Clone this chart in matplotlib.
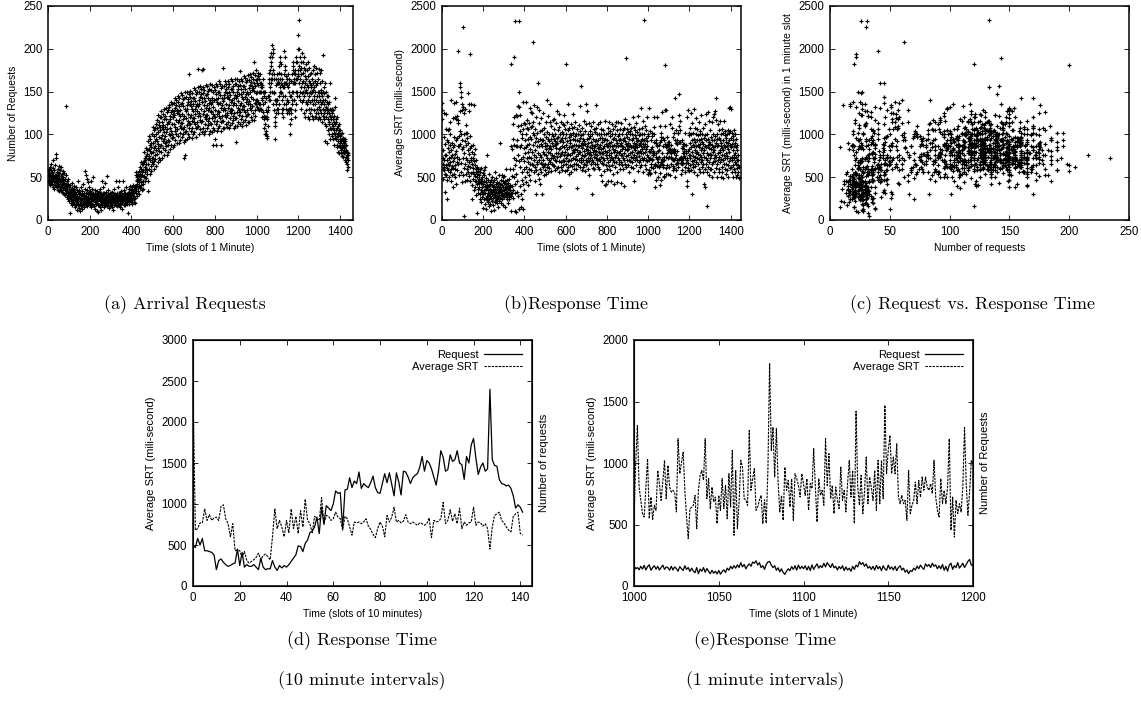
import matplotlib
matplotlib.use("Agg")
import matplotlib.pyplot as plt
import numpy as np

# requests per 1-minute slot (one row = 20 slots) (a)/(e)
requests_per_minute = [
    57,45,52,48,60,43,55,50,47,62,41,53,58,46,51,44,66,49,56,42,
    48,55,38,61,47,52,70,44,50,36,58,46,53,49,41,64,72,45,52,40,
    77,50,43,56,38,48,60,35,52,45,42,55,34,49,63,40,47,58,36,44,
    51,39,46,62,35,42,54,33,48,41,57,37,45,50,32,43,38,55,30,46,
    40,35,48,29,52,36,42,31,133,38,27,45,34,40,25,48,33,29,42,36,
    30,22,38,26,8,33,28,41,24,35,20,30,27,43,23,32,18,37,29,25,
    34,21,28,40,19,31,26,36,15,29,23,33,18,27,38,22,30,12,35,25,
    28,20,33,17,26,45,22,30,14,27,35,19,24,11,31,26,21,38,16,29,
    23,30,18,34,25,13,28,21,42,26,19,32,24,15,29,36,22,27,57,20,
    31,24,52,18,28,35,21,26,48,16,30,23,44,27,19,33,25,38,22,29,
    20,27,34,17,26,45,22,31,15,28,24,36,19,30,50,23,27,18,32,25,
    29,16,26,35,21,28,13,32,24,19,30,22,27,10,25,34,20,28,17,31,
    23,29,9,26,33,18,28,22,36,15,27,24,31,19,26,12,30,23,45,21,
    28,17,32,24,19,29,38,22,26,15,31,20,27,43,24,18,30,25,21,33,
    19,26,51,22,28,16,30,24,20,35,17,27,23,29,14,25,32,21,27,18,
    26,22,31,17,28,24,20,33,15,27,23,29,12,25,21,30,18,26,36,22,
    24,30,19,27,21,46,25,18,29,23,32,16,26,22,38,20,28,24,17,31,
    23,27,45,20,29,25,15,31,22,27,19,34,24,21,28,26,13,30,23,46,
    27,22,32,18,28,24,35,20,29,26,17,31,23,27,38,22,25,30,19,28,
    26,21,32,8,29,24,36,22,27,19,33,25,30,23,40,28,26,35,21,31,
    32,23,39,29,35,19,33,26,41,28,36,21,31,38,24,40,26,34,20,36,
    36,52,40,56,32,47,42,50,28,45,54,38,34,48,30,44,51,40,57,37,
    62,48,38,54,68,44,60,51,41,65,35,56,53,45,66,42,58,36,69,50,
    68,51,79,62,72,45,70,56,84,60,75,49,65,77,54,82,58,71,46,34,
    66,92,73,98,60,83,75,88,54,81,95,70,63,85,57,78,90,72,100,68,
    101,80,65,90,109,73,98,84,69,105,60,92,87,76,107,71,95,63,112,82,
    100,77,117,92,107,68,103,84,123,89,111,73,97,114,81,120,86,105,70,109,
    88,120,96,127,80,109,99,115,72,106,124,92,84,111,76,103,118,95,130,90,
    122,98,82,109,131,91,118,103,86,126,76,112,106,94,128,88,115,79,134,101,
    115,92,132,107,122,83,118,99,138,104,126,88,112,129,96,135,101,120,85,124,
    120,97,137,112,127,88,123,104,143,109,131,93,117,134,101,140,106,125,90,129,
    106,138,114,145,98,127,117,133,90,124,142,110,102,129,94,121,136,113,148,108,
    137,113,97,124,146,106,133,118,101,141,91,73,121,109,143,103,130,94,149,76,
    127,104,144,119,134,95,130,111,150,116,138,100,124,141,108,147,113,171,97,136,
    112,144,120,151,104,133,123,139,96,130,148,116,108,135,100,127,142,119,154,114,
    143,119,103,130,152,112,139,124,107,147,97,133,127,115,149,109,136,176,155,122,
    133,110,150,125,140,101,136,117,156,122,144,106,130,147,114,153,175,138,103,142,
    116,148,124,155,108,176,127,143,100,134,152,120,112,139,104,131,146,123,158,118,
    147,123,107,134,156,116,143,128,111,151,101,137,131,119,153,113,140,104,159,126,
    135,112,152,127,142,103,138,119,158,124,88,108,132,149,116,155,121,140,105,95,
    120,152,128,159,112,141,88,147,104,138,156,124,116,143,108,135,150,127,162,122,
    150,126,110,137,159,119,146,131,114,154,104,88,134,122,156,116,143,107,177,129,
    139,116,156,131,146,107,142,123,162,128,150,112,136,153,120,159,125,144,109,148,
    123,155,131,162,115,144,134,150,107,141,159,127,119,146,111,138,153,130,165,125,
    153,129,113,140,162,122,149,134,117,157,107,143,137,125,159,119,146,110,165,91,
    142,119,159,134,149,110,145,126,165,131,153,115,139,156,123,162,128,147,112,174,
    126,158,134,165,118,147,137,153,110,144,162,130,122,149,114,141,156,133,168,128,
    157,133,117,144,166,126,153,138,121,161,111,147,141,129,163,123,150,114,169,136,
    147,124,164,139,154,115,150,131,170,136,158,120,144,161,128,167,133,152,117,156,
    133,165,141,172,125,154,184,160,117,151,169,137,129,156,121,148,163,140,175,135,
    165,140,150,132,160,138,168,130,158,172,128,150,165,136,160,130,150,170,135,155,
    150,128,160,130,155,142,120,158,140,126,165,135,150,118,145,122,108,150,100,138,
    120,150,112,142,120,100,128,104,120,98,126,96,118,132,110,145,128,160,140,165,
    145,172,150,190,155,175,140,165,180,160,195,185,205,170,190,150,165,135,175,195,
    200,170,150,165,128,148,115,140,110,95,120,140,125,158,135,165,130,170,140,160,
    140,165,130,160,125,172,135,160,180,145,165,150,185,155,190,170,150,182,148,160,
    130,158,140,165,125,155,130,145,120,160,135,170,155,198,175,190,160,180,145,160,
    135,160,130,168,140,158,125,165,140,128,170,138,155,130,160,125,150,165,130,145,
    112,130,100,125,118,145,130,162,140,170,150,135,180,160,175,150,185,160,172,140,
    165,140,175,128,160,120,170,185,135,165,150,190,145,165,185,150,175,200,216,170,
    168,180,145,200,160,234,175,150,190,165,140,185,155,170,130,178,160,148,195,138,
    172,150,185,140,162,125,178,155,190,145,168,120,175,150,160,138,182,128,165,152,
    158,135,175,148,120,168,140,185,155,130,162,145,178,118,150,170,138,160,125,155,
    148,172,130,158,140,165,122,150,175,135,160,118,152,145,180,128,155,140,162,120,
    150,135,170,125,158,140,177,120,145,160,130,172,138,150,118,165,125,176,145,132,
    150,120,172,140,128,160,118,152,135,175,125,148,138,162,115,145,130,193,122,150,
    140,125,155,118,135,148,112,160,128,140,92,132,120,150,110,138,125,145,90,130,
    118,135,105,128,145,112,125,100,138,115,130,108,122,95,160,118,128,106,120,98,
    112,125,100,130,108,118,95,128,110,102,122,88,115,105,132,96,112,142,100,118,
    105,95,115,88,108,98,120,85,102,92,110,80,98,105,86,100,112,78,95,90,
    98,85,105,78,92,100,82,95,88,75,102,84,92,80,96,86,74,90,82,95,
    84,78,92,70,86,80,95,74,82,68,88,76,65,80,72,58,78,62,70,76,
]

# average SRT (ms) per 1-minute slot (b)/(e)
srt_per_minute = [
    1290,1370,1180,730,600,480,650,820,580,970,620,1250,700,540,330,890,760,640,1060,530,
    760,1240,610,930,470,700,250,840,660,1050,580,910,720,1060,500,790,640,880,1150,560,
    680,1010,450,820,590,740,1400,630,900,520,760,1190,380,690,850,610,970,1370,540,720,
    880,640,1200,500,770,600,1380,930,420,810,1180,680,960,740,1210,580,1170,860,1130,650,
    1970,520,980,710,860,1040,1600,1270,1550,890,1490,1440,560,1010,670,1280,830,1360,440,940,
    2260,720,1320,530,850,50,1000,610,1250,780,450,920,1300,660,1020,540,880,720,1110,600,
    960,700,1020,470,820,630,1480,560,900,1270,680,770,510,1360,840,1940,620,450,980,700,
    550,860,730,1350,410,650,800,240,560,720,480,880,610,1340,350,690,540,770,830,460,
    640,510,380,590,700,460,560,290,620,420,540,80,500,360,600,450,310,570,430,480,
    390,520,300,600,440,250,560,350,480,210,430,610,330,500,270,460,380,140,550,320,
    420,300,580,240,460,350,520,190,400,310,620,260,440,360,130,490,280,410,760,230,
    380,320,470,210,350,280,540,160,400,300,250,440,190,360,420,280,330,100,470,260,
    340,410,220,500,300,380,170,440,260,350,120,400,290,330,470,210,360,270,560,310,
    230,420,350,280,490,200,380,310,250,440,330,150,400,270,520,360,290,430,220,340,
    380,900,260,420,310,470,200,360,290,530,340,250,410,320,180,450,380,280,500,300,
    350,430,270,510,320,390,150,460,280,360,600,310,420,250,380,330,470,290,200,400,
    300,360,430,270,390,320,480,250,350,410,600,290,380,100,320,1820,280,860,510,310,
    830,400,1120,260,600,950,350,720,1900,880,500,1200,420,640,110,2330,310,860,90,700,
    1230,540,1220,860,330,940,450,760,1100,280,1330,2330,1490,690,130,1320,850,400,1040,620,
    1230,300,880,150,710,1110,470,960,250,1000,560,1380,740,420,1060,130,840,600,1130,350,
    690,940,500,1120,780,1380,440,850,620,1000,730,1170,560,880,1080,950,680,1060,410,800,
    890,600,1130,740,520,970,1310,650,830,470,1090,720,1260,580,950,800,1250,660,1100,1020,
    2080,640,880,1150,560,760,990,1340,700,450,910,620,1060,820,300,740,1200,580,960,680,
    870,1320,650,1020,540,1600,780,920,480,1130,700,860,1280,600,950,760,420,1040,670,890,
    740,1190,560,930,660,300,870,1050,620,800,1250,700,940,520,1080,770,640,1000,860,580,
    900,650,1140,760,540,970,830,1400,620,880,720,1030,560,950,790,660,1210,840,700,1000,
    610,920,780,1150,680,860,1360,720,950,570,830,1100,660,1010,760,900,1170,640,980,720,
    860,1060,630,950,750,1180,880,700,1000,580,920,780,1130,690,890,840,1270,610,960,740,
    900,620,1050,780,970,560,1240,830,690,1090,750,920,400,1010,840,680,1150,770,940,620,
    1030,790,580,960,870,1120,700,1000,640,910,1230,760,850,1110,690,960,800,570,1060,730,
    1820,880,650,1000,760,1140,580,920,830,690,1050,770,1350,620,970,850,700,1080,540,900,
    760,1010,640,930,850,1120,700,990,560,870,1080,780,630,950,820,1240,720,1020,600,880,
    790,1090,660,930,710,980,830,1140,590,880,750,1000,660,370,940,820,1060,700,860,770,
    1000,640,920,790,1110,700,860,1330,620,960,800,1040,730,1560,880,680,990,760,900,580,
    840,1070,700,950,620,880,1000,750,1160,660,920,810,570,1040,760,890,700,1120,830,640,
    1350,780,950,680,1270,860,730,1010,600,900,820,1130,690,960,770,530,1040,850,720,980,
    800,650,1100,760,910,300,840,1000,700,880,610,950,790,1150,680,870,1060,740,820,590,
    920,770,1030,660,860,1340,720,940,810,1080,650,890,760,1000,700,840,1120,620,930,800,
    710,1010,850,600,960,780,1140,690,880,520,1000,740,830,1060,670,910,780,450,960,720,
    840,650,1050,780,930,570,870,1000,700,410,950,810,1160,640,890,760,420,1010,730,860,
    600,940,790,1080,680,870,450,1020,760,900,630,1150,820,700,980,580,860,1040,740,450,
    910,780,1000,640,860,1120,720,950,540,830,1060,700,880,790,420,960,680,1100,820,740,
    1000,620,870,1140,760,930,680,1050,560,900,800,440,980,720,860,1150,650,940,780,1010,
    700,880,590,1060,810,950,680,1130,760,430,900,830,1000,640,870,760,1050,720,930,590,
    850,1070,700,960,780,400,920,830,1180,660,890,1890,750,1010,620,870,970,700,820,1060,
    760,900,640,1030,830,700,1120,870,560,950,780,1040,690,880,1000,740,850,620,1070,800,
    930,680,1010,790,870,1200,720,960,610,840,1090,760,900,450,990,820,700,1050,860,740,
    960,640,890,1130,780,920,700,1030,850,570,940,800,1210,680,880,990,750,1060,620,900,
    810,1000,700,920,1310,780,860,640,1070,830,950,720,1000,560,890,780,1160,700,940,850,
    2340,730,1010,640,890,800,1100,700,960,830,600,1050,760,920,1200,690,870,980,740,540,
    540,1000,1306,805,700,588,561,800,1035,547,723,542,656,615,940,832,696,850,1022,710,
    981,805,764,778,760,602,1198,913,1000,1089,778,560,385,629,640,656,737,466,778,900,
    940,859,1198,710,873,629,805,683,723,507,737,615,873,629,818,547,913,642,1103,412,
    940,466,683,1022,967,710,700,656,1265,778,870,954,615,642,700,737,507,700,510,940,
    1812,1103,1290,886,1280,850,602,737,534,967,778,859,642,873,534,913,873,818,723,913,
    832,737,873,615,832,791,1117,805,520,873,737,778,656,1198,818,1076,710,818,588,805,
    700,629,967,696,778,602,832,1022,723,940,507,1420,805,656,900,588,764,1049,669,886,
    805,696,940,615,1022,669,1022,710,1470,913,1103,1225,913,1049,913,1157,723,669,737,669,
    696,534,940,588,656,696,846,669,859,723,886,778,886,805,778,832,751,1022,723,615,
    561,873,669,778,669,805,1198,453,723,398,696,588,669,602,805,1290,832,575,764,1022,
    995,760,1080,640,900,720,1250,580,850,1000,690,940,800,300,1130,660,880,750,1020,620,
    860,1300,700,950,560,820,1080,740,910,630,1000,780,870,1190,680,940,520,800,1060,720,
    880,650,990,770,1150,600,850,930,710,1040,560,890,760,1000,680,820,1230,740,950,620,
    840,1000,700,910,560,780,1070,650,890,420,960,740,820,1120,600,870,380,990,720,850,
    1240,660,930,780,560,1010,700,160,880,620,1260,760,950,520,840,1160,680,910,770,600,
    890,1050,720,830,600,970,760,1140,650,880,500,930,790,1010,680,850,1200,720,940,560,
    820,1240,690,980,760,1270,870,1420,610,900,1170,740,1000,650,860,500,950,780,1120,700,
    880,600,960,740,1050,560,820,930,680,1160,790,500,870,1000,710,900,620,1060,760,840,
    560,940,700,1020,820,490,880,650,1160,760,990,600,850,720,1040,540,910,780,660,960,
    720,1000,580,870,750,1050,640,900,500,830,1020,690,1310,790,940,1320,610,880,1040,720,
    1300,850,620,960,740,1020,560,890,700,980,640,820,500,930,760,1050,600,870,720,680,
    900,560,780,1000,650,850,500,740,950,610,820,700,530,880,640,760,560,700,490,620,
]

# panel (d): 10-minute slots
request_10min = [
    490,470,580,500,580,430,430,420,410,380,
    200,310,330,290,260,240,250,270,280,450,
    250,410,230,260,240,240,260,230,200,340,
    230,200,210,210,310,230,190,250,220,250,
    230,260,300,340,380,490,480,420,520,560,
    650,670,720,840,640,960,750,980,950,920,
    1000,1160,1130,1140,700,1170,1180,1320,1200,1280,
    1250,1390,1190,1250,1220,1200,1260,1340,1200,1140,
    1130,1250,1370,1260,1380,1240,1100,1380,1270,1110,
    1400,1390,1330,1250,1320,1350,1370,1450,1580,1400,
    1530,1500,1430,1330,1230,1400,1650,1570,1400,1420,
    1600,1520,1540,1650,1500,1480,1300,1580,1500,1720,
    1800,1560,1360,1450,1500,1400,1430,2400,1540,1470,
    1460,1300,1250,1240,1220,1230,1190,1100,950,990,960,900,
]
srt_10min = [
    2450,680,700,770,770,940,800,870,800,830,
    840,800,970,990,820,760,600,760,430,440,
    430,350,420,310,280,300,320,350,400,320,
    370,390,360,320,600,940,700,800,720,600,
    800,650,940,700,850,640,920,720,1060,800,
    760,650,850,820,800,1080,760,860,850,800,
    820,900,840,820,680,850,820,720,620,780,
    770,780,760,780,820,730,690,630,590,700,
    780,730,600,860,780,840,960,780,800,770,
    790,870,780,760,780,760,740,770,760,740,
    760,830,590,800,780,790,820,1020,760,800,
    930,790,880,760,950,700,780,740,770,780,
    960,740,780,770,730,760,700,450,720,860,
    880,900,800,770,720,680,660,850,880,900,640,620,
]

zoom_start, zoom_end = 1000, 1200

captions_top = ["(a) Arrival Requests", "(b)Response Time", "(c) Request vs. Response Time"]
captions_bottom = [["(d) Response Time", "(10 minute intervals)"],
                   ["(e)Response Time", "(1 minute intervals)"]]

plt.rcParams['font.family'] = ['Liberation Sans', 'DejaVu Sans']
plt.rcParams['font.size'] = 7.5

req = np.array(requests_per_minute)
srt = np.array(srt_per_minute)
n = min(len(req), len(srt))
req, srt = req[:n], srt[:n]
minutes = np.arange(n)


def style(ax):
    ax.tick_params(direction='in', top=True, right=True, length=3.5, width=0.6,
                   labelsize=8.3, pad=4)
    for s in ax.spines.values():
        s.set_linewidth(1.1)


def scatter(ax, x, y):
    ax.plot(x, y, '+', color='black', ms=3.5, mew=0.85, linestyle='none')


fig = plt.figure(figsize=(11.41, 7.23), dpi=100)
W, H = 1141.0, 723.0


def make_ax(l, r, t, b):
    return fig.add_axes([l / W, 1 - b / H, (r - l) / W, (b - t) / H])


# (a)
ax = make_ax(48, 353, 6, 220)
scatter(ax, minutes, req)
ax.set_xlim(0, 1462)
ax.set_ylim(0, 250)
ax.set_xticks(range(0, 1401, 200))
ax.set_yticks(range(0, 251, 50))
ax.set_xlabel("Time (slots of 1 Minute)")
ax.set_ylabel("Number of Requests", labelpad=4)
style(ax)

# (b)
ax = make_ax(442, 741, 6, 220)
scatter(ax, minutes, srt)
ax.set_xlim(0, 1450)
ax.set_ylim(0, 2500)
ax.set_xticks(range(0, 1401, 200))
ax.set_yticks(range(0, 2501, 500))
ax.set_xlabel("Time (slots of 1 Minute)")
ax.set_ylabel("Average SRT (milli-second)", labelpad=4)
style(ax)

# (c)
ax = make_ax(830, 1129, 6, 220)
scatter(ax, req, srt)
ax.set_xlim(0, 250)
ax.set_ylim(0, 2500)
ax.set_xticks(range(0, 251, 50))
ax.set_yticks(range(0, 2501, 500))
ax.set_xlabel("Number of requests")
ax.set_ylabel("Average SRT (milli-second) in 1 minute slot", labelpad=4)
style(ax)


def line_panel(ax, x, r, s, right_text):
    ax.plot(x, r, color='black', lw=0.9, label="Request")
    ax.plot(x, s, color='black', lw=0.8, linestyle=(0, (2.2, 1.0)), label="Average SRT")
    leg = ax.legend(loc='upper right', frameon=False, markerfirst=False,
                    handlelength=3.4, handletextpad=0.5, labelspacing=0.15,
                    borderaxespad=0.8, borderpad=0.1, fontsize=8)
    for col in leg._legend_handle_box.get_children():
        col.align = 'right'
    ax2 = ax.twinx()
    ax2.set_yticks([])
    ax2.set_ylabel(right_text, labelpad=5, fontsize=8)
    style(ax)


# (d)
ax = make_ax(193, 532, 340, 586)
line_panel(ax, np.arange(len(request_10min)), request_10min, srt_10min, "Number of requests")
ax.set_xlim(0, 145)
ax.set_ylim(0, 3000)
ax.set_xticks(range(0, 141, 20))
ax.set_yticks(range(0, 3001, 500))
ax.set_xlabel("Time (slots of 10 minutes)")
ax.set_ylabel("Average SRT (mili-second)", labelpad=4, fontsize=8)

# (e)
ax = make_ax(634, 973, 340, 586)
zm = minutes[zoom_start:zoom_end + 1]
line_panel(ax, zm, req[zoom_start:zoom_end + 1], srt[zoom_start:zoom_end + 1], "Number of Requests")
ax.set_xlim(zoom_start, zoom_end)
ax.set_ylim(0, 2000)
ax.set_xticks(range(zoom_start, zoom_end + 1, 50))
ax.set_yticks(range(0, 2001, 500))
ax.set_xlabel("Time (slots of 1 Minute)")
ax.set_ylabel("Average SRT (mili-second)", labelpad=4, fontsize=8)

# captions
for cx, txt in zip([185, 576, 972], captions_top):
    fig.text(cx / W, 1 - 305 / H, txt, ha='center', va='center', family='cmr10', size=13)
for cx, (l1, l2) in zip([362, 765], captions_bottom):
    fig.text(cx / W, 1 - 641 / H, l1, ha='center', va='center', family='cmr10', size=13)
    fig.text(cx / W, 1 - 681 / H, l2, ha='center', va='center', family='cmr10', size=13)

fig.savefig("out.png", dpi=100)
